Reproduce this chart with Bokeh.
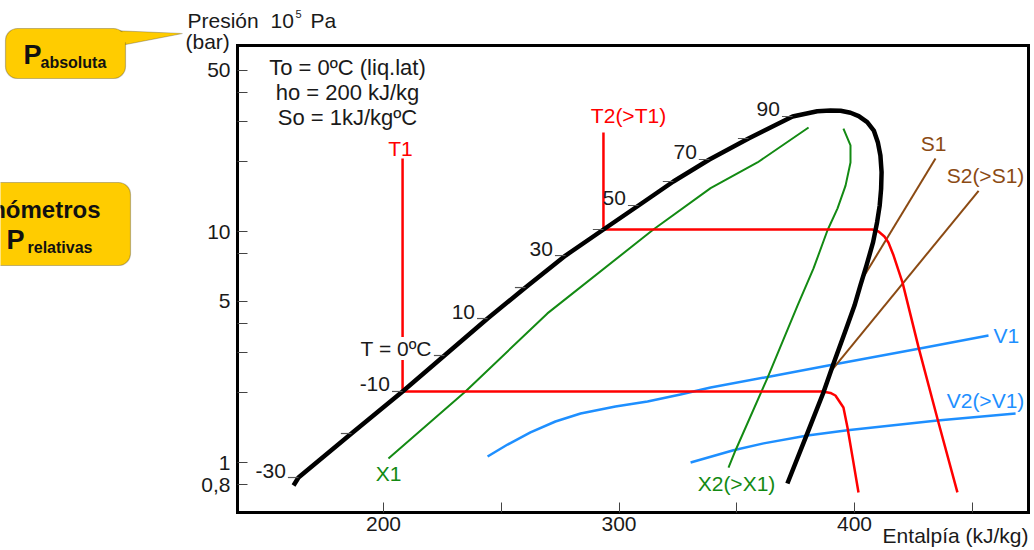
from bokeh.plotting import figure
from bokeh.models import (Range1d, FixedTicker, Label, BoxAnnotation, PolyAnnotation,
                          LinearAxis, LogAxis)
from bokeh.embed import file_html
from bokeh.resources import INLINE

# ---------------- data ----------------
x_ticks = [200, 250, 300, 350, 400, 450]
x_tick_labels = ["200", "", "300", "", "400", ""]
y_ticks = [0.8, 1, 2, 3, 4, 5, 8, 10, 20, 30, 40, 50]
y_tick_labels = ["0,8", "1", "", "", "", "5", "", "10", "", "", "", "50"]

# saturation temperatures (ºC) marked on the liquid line
sat_T_labels = ["-30", "", "-10", "T = 0ºC", "10", "", "30", "", "50", "", "70", "", "90"]
sat_T_h = [163.9, 186.4, 208.1, 225.9, 244.2, 260.3, 277.3, 293.4, 308.3, 323.1, 338.4, 355.0, 373.7]
sat_T_p = [0.861, 1.335, 2.03, 2.905, 4.20, 5.72, 7.87, 10.2, 12.96, 16.46, 20.50, 25.27, 31.47]

# saturation dome (liquid + vapour branches)
dome_h = [161.8, 163.9, 186.4, 208.1, 225.9, 244.2, 260.3, 277.3, 293.4, 308.3, 323.1, 338.4,
          355.0, 373.7, 384.2, 389.8, 394.1, 398.3, 401.8, 405.4, 408.2, 409.9, 411.0,
          411.5, 411.3, 410.7, 409.6, 407.9, 405.1, 402.5, 400.0, 396.2, 391.1, 386.8, 380.0,
          371.5]
dome_p = [0.795, 0.861, 1.335, 2.03, 2.905, 4.20, 5.72, 7.87, 10.2, 12.96, 16.46, 20.50,
          25.27, 31.47, 33.18, 33.41, 33.31, 32.65, 31.56, 29.73, 27.36, 24.36, 21.33,
          18.06, 15.30, 12.96, 10.97, 8.99, 7.13, 5.84, 4.78, 3.73, 2.68, 2.01, 1.34,
          0.811]

# isotherms
t1_h = [208.1, 208.1, 386.4, 389.8, 391.9, 395.3, 397.0, 399.2, 401.7]
t1_p = [20.7, 2.03, 2.03, 2.00, 1.95, 1.73, 1.42, 1.05, 0.742]
t2_h = [293.4, 293.4, 407.6, 410.2, 412.7, 414.4, 416.6, 420.4, 427.2, 435.2, 443.7]
t2_p = [26.8, 10.2, 10.2, 10.0, 9.51, 8.96, 7.87, 6.01, 3.15, 1.55, 0.742]

# constant quality lines
x1_h = [202.1, 234.8, 269.6, 314.6, 338.9, 358.8, 380.5]
x1_p = [1.04, 2.03, 4.42, 10.2, 15.4, 19.9, 28.2]
x2_h = [395.3, 398.3, 398.3, 396.2, 392.8, 388.5, 382.6, 375.8, 363.1, 349.5, 346.5]
x2_p = [27.9, 23.6, 19.9, 15.8, 12.6, 10.1, 6.92, 4.78, 2.33, 1.13, 0.951]

# constant specific volume lines
v1_h = [244.2, 252.7, 262.4, 273.0, 283.7, 298.5, 312.1, 326.1, 338.9, 363.1, 391.1, 427.2, 456.9]
v1_p = [1.062, 1.196, 1.349, 1.505, 1.630, 1.748, 1.837, 1.970, 2.112, 2.347, 2.656, 3.11, 3.55]
v2_h = [330.4, 348.6, 361.4, 380.0, 397.0, 435.2, 468.4]
v2_p = [1.00, 1.13, 1.21, 1.31, 1.38, 1.52, 1.63]

# isentropes
s1_h = [404.2, 434.4]
s1_p = [6.45, 20.7]
s2_h = [390.2, 452.7]
s2_p = [2.50, 15.0]

# plot area limits
X_MIN, X_MAX = 138.0, 474.0
Y_MIN, Y_MAX = 0.6075, 63.8

# ---------------- style ----------------
FONT = "Liberation Sans"
RED = "#FF0000"
GREEN = "#138A13"
BLUE = "#1E8FFF"
BROWN = "#8B4A13"
YELLOW = "#FFCC00"
INK = "#1a1a1a"
FS = "21px"
W, HGT = 1032, 548

# pixel -> data helpers (used only to place text annotations)
def H(px):
    return 200 + (px - 383) / 2.355

def P(py):
    return 10 ** ((462 - py) / 231.0)

p = figure(width=W, height=HGT, x_range=Range1d(H(0), H(W)), y_range=Range1d(P(HGT), P(0)),
           y_axis_type="log", x_axis_location=None, y_axis_location=None,
           output_backend="svg", toolbar_location=None, title=None, min_border=0)
p.background_fill_color = "white"
p.border_fill_color = "white"
p.outline_line_color = None
p.grid.visible = False

def style_axis(ax):
    ax.axis_line_color = "black"
    ax.axis_line_width = 3
    ax.axis_line_cap = "square"
    ax.major_tick_in = 10
    ax.major_tick_out = 0
    ax.major_tick_line_color = "#444444"
    ax.major_tick_line_width = 1
    ax.minor_tick_line_color = None
    ax.major_label_text_font = FONT
    ax.major_label_text_font_size = FS
    ax.major_label_text_color = INK

yax = LogAxis(fixed_location=X_MIN, bounds=(Y_MIN, Y_MAX), ticker=FixedTicker(ticks=y_ticks),
              major_label_overrides={t: l for t, l in zip(y_ticks, y_tick_labels)},
              major_label_standoff=7)
xax = LinearAxis(fixed_location=Y_MIN, bounds=(X_MIN, X_MAX), ticker=FixedTicker(ticks=x_ticks),
                 major_label_overrides={t: l for t, l in zip(x_ticks, x_tick_labels)},
                 major_label_standoff=4)
tax = LinearAxis(fixed_location=Y_MAX, bounds=(X_MIN, X_MAX), ticker=FixedTicker(ticks=[]))
rax = LogAxis(fixed_location=X_MAX, bounds=(Y_MIN, Y_MAX), ticker=FixedTicker(ticks=[]))
for ax in (yax, xax, tax, rax):
    style_axis(ax)
p.add_layout(yax, "left")
p.add_layout(xax, "below")
p.add_layout(tax, "above")
p.add_layout(rax, "right")

# ---------------- glyphs ----------------
p.line(v1_h, v1_p, line_color=BLUE, line_width=2.5, line_join="round")
p.line(v2_h, v2_p, line_color=BLUE, line_width=2.5, line_join="round")
p.line(s1_h, s1_p, line_color=BROWN, line_width=2)
p.line(s2_h, s2_p, line_color=BROWN, line_width=2)
p.line(x1_h, x1_p, line_color=GREEN, line_width=2, line_join="round")
p.line(x2_h, x2_p, line_color=GREEN, line_width=2, line_join="round")
p.line(t1_h, t1_p, line_color=RED, line_width=2.5, line_join="round")
p.line(t2_h, t2_p, line_color=RED, line_width=2.5, line_join="round")
p.line(dome_h, dome_p, line_color="black", line_width=4.5, line_join="round")

tick_len = 4.5
p.segment(x0=[h - tick_len for h in sat_T_h], y0=sat_T_p, x1=sat_T_h, y1=sat_T_p,
          line_color="#555555", line_width=1.2)

# temperature labels sit just above-left of their tick (7 px higher)
lift = 10 ** (7 / 231.0)
for lab_t, h, pr in zip(sat_T_labels, sat_T_h, sat_T_p):
    if not lab_t:
        continue
    kw = {}
    if lab_t.startswith("T ="):
        kw = dict(background_fill_color="white")
    p.add_layout(Label(x=h - tick_len, y=pr * lift, x_offset=-2, text=lab_t, text_align="right",
                       text_baseline="middle", text_font=FONT, text_font_size=FS,
                       text_color=INK, **kw))

def lab(text, px, py, color=INK, align="center", size=FS, style="normal"):
    p.add_layout(Label(x=H(px), y=P(py), text=text, text_align=align, text_baseline="middle",
                       text_font=FONT, text_font_size=size, text_font_style=style,
                       text_color=color))

lab("T1", 400, 148, RED)
lab("T2(>T1)", 628, 115, RED)
lab("S1", 933, 143, BROWN)
lab("S2(>S1)", 985, 175, BROWN)
lab("V1", 993, 335, BLUE, align="left")
lab("V2(>V1)", 985, 400, BLUE)
lab("X1", 388, 473, GREEN)
lab("X2(>X1)", 736, 483, GREEN)

lab("To = 0ºC (liq.lat)", 347, 67, size="22px")
lab("ho = 200 kJ/kg", 347, 92, size="22px")
lab("So = 1kJ/kgºC", 347, 117, size="22px")

# axis titles
lab("Presión", 187, 20, align="left")
lab("10", 270, 20, align="left")
lab("5", 295, 13, align="left", size="11px")
lab("Pa", 310, 20, align="left")
lab("(bar)", 185, 41, align="left")
lab("Entalpía (kJ/kg)", 1028, 535, align="right")

# callout 1 (absolute pressure)
p.add_layout(PolyAnnotation(xs=[H(100), H(182), H(115)], ys=[P(29.5), P(33), P(46)],
                            fill_color=YELLOW, fill_alpha=1, line_color="#333333", line_width=1.2))
p.add_layout(BoxAnnotation(left=H(5), right=H(125), top=P(28), bottom=P(78),
                           fill_color=YELLOW, fill_alpha=1, line_color="#333333",
                           line_width=1.2, border_radius=12))
p.add_layout(PolyAnnotation(xs=[H(110), H(178), H(121)], ys=[P(31.2), P(33.2), P(42.5)],
                            fill_color=YELLOW, fill_alpha=1, line_color=None))
lab("P", 23, 54, align="left", size="27px", style="bold", color="#111111")
lab("absoluta", 40, 62, align="left", size="16px", style="bold", color="#111111")

# callout 2 (gauge pressure)
p.add_layout(BoxAnnotation(left=H(-120), right=H(130), top=P(182), bottom=P(265),
                           fill_color=YELLOW, fill_alpha=1, line_color="#333333",
                           line_width=1.2, border_radius=12))
lab("Manómetros", 100, 209, align="right", size="24px", style="bold", color="#111111")
lab("P", 6, 239, align="left", size="27px", style="bold", color="#111111")
lab("relativas", 27, 247, align="left", size="16px", style="bold", color="#111111")

open("out.html", "w").write(file_html(p, INLINE))
